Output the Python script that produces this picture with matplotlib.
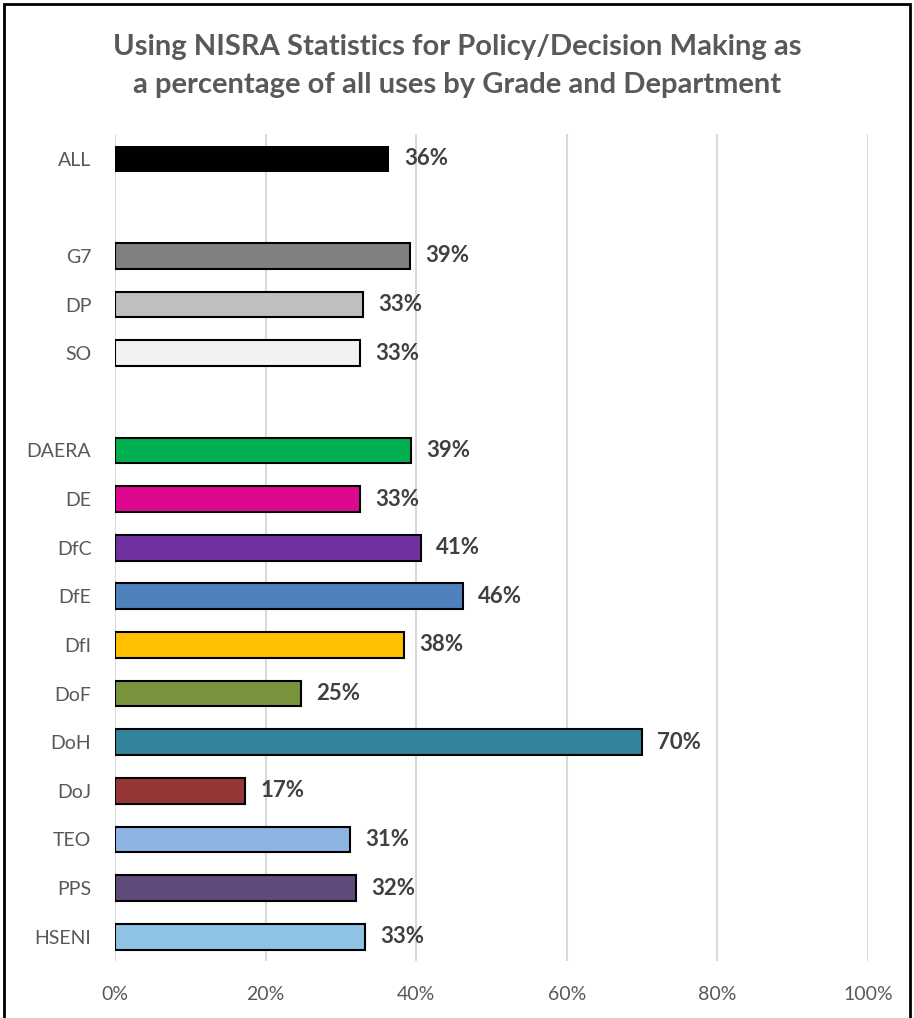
import numpy as np
import matplotlib.pyplot as plt
from matplotlib.patches import Rectangle

# categories top to bottom, "" = spacer rows as in the original sheet
labels = ['ALL', '', 'G7', 'DP', 'SO', '',
          'DAERA', 'DE', 'DfC', 'DfE', 'DfI', 'DoF', 'DoH', 'DoJ', 'TEO', 'PPS', 'HSENI']
values = [36.4, np.nan, 39.2, 32.9, 32.6, np.nan,
          39.3, 32.6, 40.6, 46.2, 38.4, 24.7, 70.0, 17.3, 31.2, 32.0, 33.2]
colors = ['#000000', 'none', '#808080', '#BFBFBF', '#F2F2F2', 'none',
          '#00B050', '#DE0790', '#7030A0', '#4F81BD', '#FFC000', '#77933C',
          '#31849B', '#953735', '#8EB4E3', '#604A7B', '#8FC3E4']
xticks = [0, 20, 40, 60, 80, 100]

plt.rcParams['font.family'] = ['Lato', 'DejaVu Sans']

fig = plt.figure(figsize=(9.14, 10.18), dpi=100)
ax = fig.add_axes([0.1258, 0.056, 0.8239, 0.812])

y = np.arange(len(labels))
vals = np.nan_to_num(np.array(values, dtype=float))
bars = ax.barh(y, vals, height=0.53, color=colors, edgecolor='black', linewidth=1.5, zorder=3)
bars[0].set_linewidth(0)  # ALL bar has no visible outline

for b, yi, v in zip(bars, y, values):
    if np.isnan(v):
        b.set_visible(False)
        continue
    ax.text(v + 2.0, yi, f'{v:.0f}%', va='center', ha='left',
            fontsize=16, fontweight='bold', color='#404040')

ax.set_xlim(0, 100)
ax.set_ylim(len(labels) - 0.5, -0.5)
ax.set_yticks(y)
ax.set_yticklabels(labels)
ax.set_xticks(xticks)
ax.set_xticklabels([f'{t}%' for t in xticks])
ax.tick_params(axis='y', length=0, pad=17, labelsize=14, labelcolor='#595959')
ax.tick_params(axis='x', length=0, pad=18, labelsize=14, labelcolor='#595959')
ax.grid(axis='x', color='#D9D9D9', linewidth=1.5, zorder=0)
ax.set_axisbelow(True)
for s in ax.spines.values():
    s.set_visible(False)

fig.text(0.5, 0.935, 'Using NISRA Statistics for Policy/Decision Making as\n'
         'a percentage of all uses by Grade and Department',
         ha='center', va='center', fontsize=21, fontweight='bold',
         color='#595959', linespacing=1.6)

# outer chart border
fig.add_artist(Rectangle((0.004, -0.02), 0.992, 1.016, transform=fig.transFigure,
                         fill=False, edgecolor='black', linewidth=2))

fig.savefig('out.png', dpi=100)
